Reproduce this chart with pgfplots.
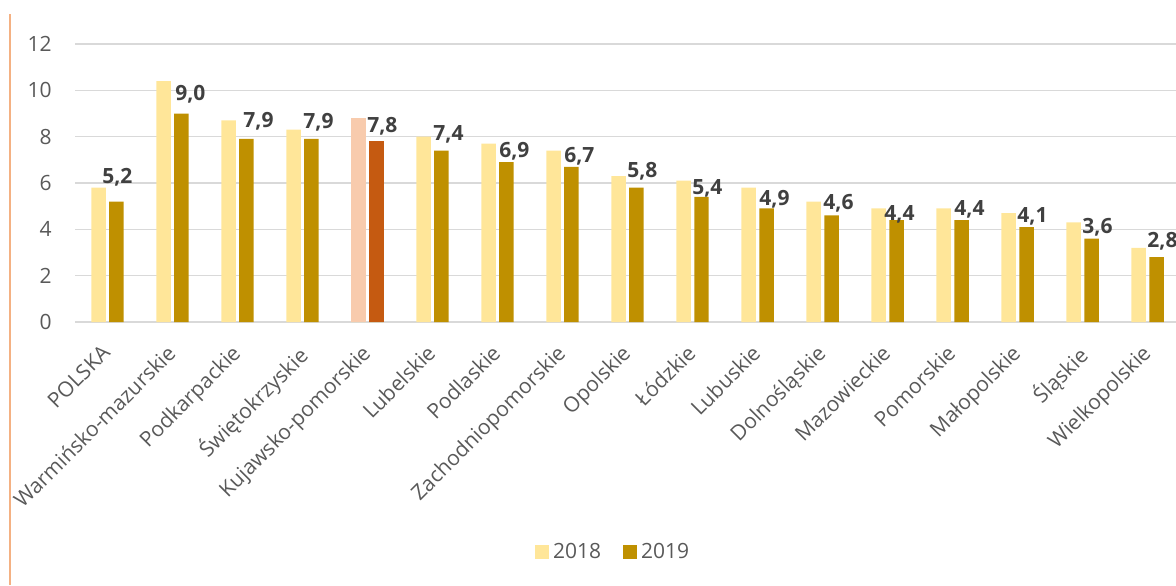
\documentclass[border=0pt]{standalone}
\usepackage{fontspec}
\setmainfont{Open Sans}
\usepackage{pgfplots}
\pgfplotsset{compat=1.18}
\definecolor{c18}{HTML}{FFE699}
\definecolor{c19}{HTML}{BF9000}
\definecolor{h18}{HTML}{F8CBAD}
\definecolor{h19}{HTML}{C55A11}
\definecolor{gridc}{HTML}{D9D9D9}
\definecolor{tickc}{HTML}{595959}
\definecolor{labc}{HTML}{404040}
\definecolor{linec}{HTML}{F4B183}
\newcommand{\fs}{\fontsize{10.5}{12.5}\selectfont}
\pgfplotsset{sqlegend/.style={legend image code/.code={\fill[##1] (0pt,-3.5pt) rectangle (7pt,3.5pt);}}}
\begin{document}
\begin{tikzpicture}
\begin{axis}[
  at={(0,0)}, anchor=south west,
  scale only axis, width=550.5pt, height=139pt,
  xmin=-0.5, xmax=16.438, ymin=0, ymax=12,
  ytick={0,2,...,12},
  xtick={0,...,16},
  xticklabels={POLSKA, Warmińsko-mazurskie, Podkarpackie, Świętokrzyskie, Kujawsko-pomorskie, Lubelskie, Podlaskie, Zachodniopomorskie, Opolskie, Łódzkie, Lubuskie, Dolnośląskie, Mazowieckie, Pomorskie, Małopolskie, Śląskie, Wielkopolskie},
  ymajorgrids, grid style={draw=gridc, line width=0.8pt},
  axis line style={draw=none},
  tick style={draw=none},
  major tick length=0pt,
  /pgf/number format/assume math mode=true,
  yticklabel style={font=\fs, text=tickc, inner sep=0pt, anchor=east, xshift=-11.5pt},
  xticklabel style={font=\fs, text=tickc, xshift=-3.5pt, yshift=-10.5pt, rotate=45, anchor=north east, inner sep=0pt},
  legend style={at={(0.4896,-0.827)}, anchor=center, draw=none, fill=none, legend columns=2, font=\fs, text=tickc,
    /tikz/every even column/.append style={column sep=9pt}},
  clip=false,
]
\addplot[ybar, bar width=0.223, bar shift=-0.138, fill=c18, draw=none, sqlegend]
  coordinates {(0,5.8) (1,10.4) (2,8.7) (3,8.3) (4,8.8) (5,8.0) (6,7.7) (7,7.4) (8,6.3) (9,6.1) (10,5.8) (11,5.2) (12,4.9) (13,4.9) (14,4.7) (15,4.3) (16,3.2)};
\addlegendentry{2018}
\addplot[ybar, bar width=0.223, bar shift=0.138, fill=c19, draw=none, sqlegend]
  coordinates {(0,5.2) (1,9.0) (2,7.9) (3,7.9) (4,7.8) (5,7.4) (6,6.9) (7,6.7) (8,5.8) (9,5.4) (10,4.9) (11,4.6) (12,4.4) (13,4.4) (14,4.1) (15,3.6) (16,2.8)};
\addlegendentry{2019}
\addplot[ybar, bar width=0.223, bar shift=-0.138, fill=h18, draw=none, forget plot]
  coordinates {(4,8.8)};
\addplot[ybar, bar width=0.223, bar shift=0.138, fill=h19, draw=none, forget plot]
  coordinates {(4,7.8)};
\addplot[only marks, mark=none, forget plot, point meta=explicit,
  nodes near coords={\pgfmathprintnumber[fixed,fixed zerofill,precision=1,use comma]{\pgfplotspointmeta}},
  nodes near coords style={anchor=base west, inner sep=0pt, font=\fs\bfseries, text=labc}]
  coordinates {
  (-0.085,5.98) [5.2]
  (1.038,9.56) [9.0]
  (2.085,8.39) [7.9]
  (3.008,8.35) [7.9]
  (3.992,8.18) [7.8]
  (5.008,7.83) [7.4]
  (6.023,7.10) [6.9]
  (7.023,6.88) [6.7]
  (7.992,6.24) [5.8]
  (8.992,5.50) [5.4]
  (10.023,5.03) [4.9]
  (11.008,4.86) [4.6]
  (11.946,4.38) [4.4]
  (13.023,4.60) [4.4]
  (13.992,4.30) [4.1]
  (14.992,3.82) [3.6]
  (15.992,3.22) [2.8]
  };
\end{axis}
\draw[linec, line width=0.75pt] (-32.5pt,-131.5pt) -- (-32.5pt,154pt);
\pgfresetboundingbox
\path (-37.5pt,-131.5pt) rectangle (550.5pt,161pt);
\end{tikzpicture}
\end{document}
